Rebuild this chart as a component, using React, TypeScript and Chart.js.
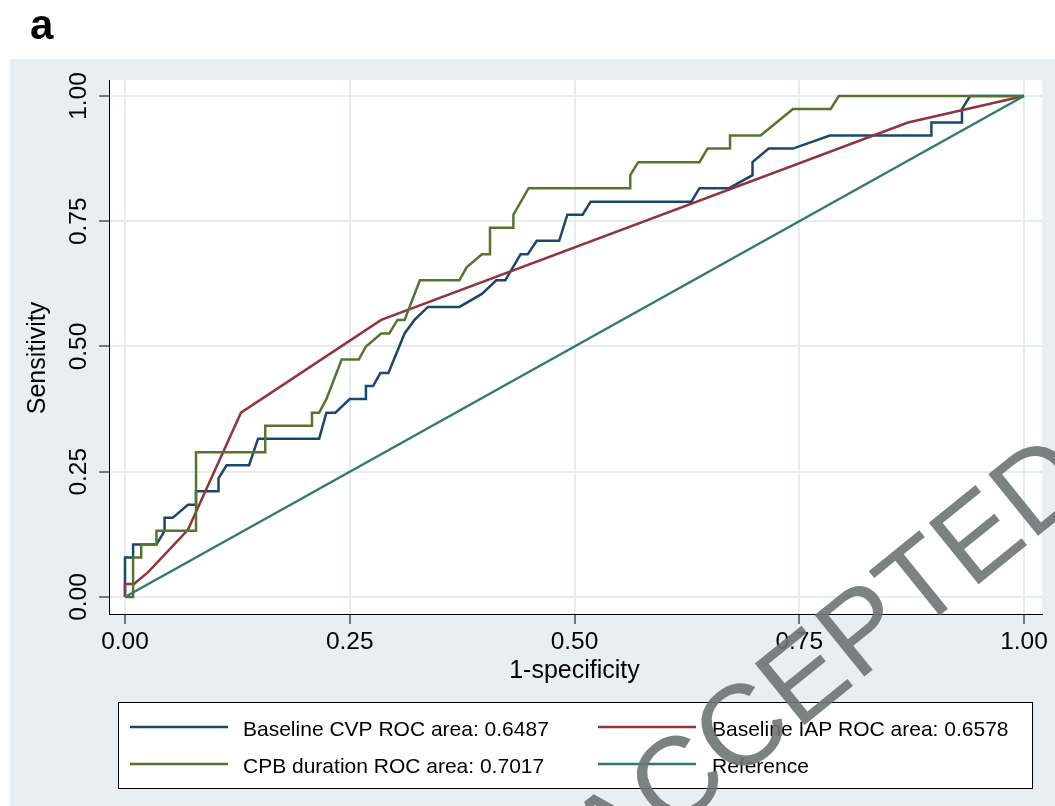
import React, { useEffect, useRef } from "react";
import { Chart, registerables } from "chart.js";
Chart.register(...registerables);

const W = 1055;
const H = 806;

// ---- data ----
const cvpFpr = [0, 0, 0.009, 0.009, 0.035, 0.044, 0.044, 0.053, 0.07, 0.079, 0.079, 0.104, 0.104, 0.113, 0.138, 0.148, 0.216, 0.224, 0.234, 0.25, 0.268, 0.268, 0.276, 0.284, 0.293, 0.311, 0.322, 0.337, 0.372, 0.397, 0.413, 0.423, 0.44, 0.448, 0.458, 0.483, 0.492, 0.509, 0.518, 0.63, 0.639, 0.672, 0.698, 0.698, 0.716, 0.743, 0.784, 0.897, 0.897, 0.931, 0.931, 0.94, 1];
const cvpSens = [0, 0.079, 0.079, 0.105, 0.105, 0.132, 0.158, 0.158, 0.184, 0.184, 0.211, 0.211, 0.237, 0.263, 0.263, 0.316, 0.316, 0.368, 0.368, 0.395, 0.395, 0.421, 0.421, 0.447, 0.447, 0.526, 0.553, 0.579, 0.579, 0.605, 0.632, 0.632, 0.684, 0.684, 0.711, 0.711, 0.763, 0.763, 0.789, 0.789, 0.816, 0.816, 0.842, 0.868, 0.895, 0.895, 0.921, 0.921, 0.947, 0.947, 0.974, 1, 1];

const iapFpr = [0, 0, 0.01, 0.026, 0.07, 0.129, 0.285, 0.871, 1];
const iapSens = [0, 0.026, 0.026, 0.05, 0.134, 0.368, 0.553, 0.947, 1];

const cpbFpr = [0, 0.009, 0.009, 0.018, 0.018, 0.035, 0.035, 0.079, 0.079, 0.156, 0.156, 0.208, 0.208, 0.216, 0.224, 0.241, 0.26, 0.268, 0.285, 0.294, 0.303, 0.311, 0.328, 0.372, 0.38, 0.397, 0.406, 0.406, 0.432, 0.432, 0.449, 0.562, 0.562, 0.571, 0.639, 0.648, 0.673, 0.673, 0.707, 0.743, 0.785, 0.794, 1];
const cpbSens = [0, 0, 0.079, 0.079, 0.105, 0.105, 0.132, 0.132, 0.289, 0.289, 0.342, 0.342, 0.368, 0.368, 0.395, 0.474, 0.474, 0.5, 0.526, 0.526, 0.553, 0.553, 0.632, 0.632, 0.658, 0.684, 0.684, 0.737, 0.737, 0.763, 0.816, 0.816, 0.842, 0.868, 0.868, 0.895, 0.895, 0.921, 0.921, 0.974, 0.974, 1, 1];

const refFpr = [0, 1];
const refSens = [0, 1];

const tickValues = [0, 0.25, 0.5, 0.75, 1];
const tickLabels = ["0.00", "0.25", "0.50", "0.75", "1.00"];

const legendLabels = [
  "Baseline CVP ROC area: 0.6487",
  "Baseline IAP ROC area: 0.6578",
  "CPB duration ROC area: 0.7017",
  "Reference",
];
const xTitle = "1-specificity";
const yTitle = "Sensitivity";
const panelLabel = "a";
const watermarkText = "ACCEPTED";

// ---- styles ----
const NAVY = "#1a476f";
const MAROON = "#90353b";
const GREEN = "#55752f";
const TEAL = "#337a6e";
const BG = "#e7eff2";
const GRID = "#e3ecef";
const FONT = "'Liberation Sans', Arial, Helvetica, sans-serif";
const legendColors = [NAVY, MAROON, GREEN, TEAL];

const pts = (xs: number[], ys: number[]) => xs.map((x, i) => ({ x, y: ys[i] }));

const decor = {
  id: "decor",
  beforeDraw(chart: any) {
    const ctx = chart.ctx;
    const { left, top, right, bottom } = chart.chartArea;
    ctx.save();
    ctx.fillStyle = "#ffffff";
    ctx.fillRect(0, 0, W, H);
    ctx.fillStyle = BG;
    ctx.fillRect(10, 59, W - 10, H - 59);
    ctx.fillStyle = "#ffffff";
    ctx.fillRect(left, top, right - left, bottom - top);
    ctx.restore();
  },
  afterDraw(chart: any) {
    const ctx = chart.ctx;
    const xs = chart.scales.x;
    const ys = chart.scales.y;
    ctx.save();
    ctx.fillStyle = "#000";
    // y tick labels (rotated)
    ctx.font = `24.5px ${FONT}`;
    ctx.textAlign = "center";
    ctx.textBaseline = "alphabetic";
    tickValues.forEach((v, i) => {
      const y = ys.getPixelForValue(v);
      ctx.save();
      ctx.translate(86, y);
      ctx.rotate(-Math.PI / 2);
      ctx.fillText(tickLabels[i], 0, 0);
      ctx.restore();
    });
    // y title
    ctx.font = `25px ${FONT}`;
    ctx.save();
    ctx.translate(45, 358);
    ctx.rotate(-Math.PI / 2);
    ctx.fillText(yTitle, 0, 0);
    ctx.restore();
    // x title
    const xc = (xs.getPixelForValue(0) + xs.getPixelForValue(1)) / 2;
    ctx.fillText(xTitle, xc, 678);

    // legend
    const lx = 118, ly = 702, lw = 1032 - 118, lh = 86;
    ctx.fillStyle = "#fff";
    ctx.fillRect(lx, ly, lw, lh);
    ctx.strokeStyle = "#000";
    ctx.lineWidth = 1;
    ctx.strokeRect(lx + 0.5, ly + 0.5, lw, lh);
    const cols = [{ l0: 130, l1: 228, t: 243 }, { l0: 598, l1: 696, t: 712 }];
    const rows = [{ line: 727, text: 736 }, { line: 764, text: 772.5 }];
    ctx.font = `21px ${FONT}`;
    ctx.textAlign = "left";
    legendLabels.forEach((lab, i) => {
      const c = cols[i % 2];
      const r = rows[Math.floor(i / 2)];
      ctx.strokeStyle = legendColors[i];
      ctx.lineWidth = 2.5;
      ctx.beginPath();
      ctx.moveTo(c.l0, r.line);
      ctx.lineTo(c.l1, r.line);
      ctx.stroke();
      ctx.fillStyle = "#000";
      ctx.fillText(lab, c.t, r.text);
    });

    // panel label
    ctx.font = `bold 42px ${FONT}`;
    ctx.fillStyle = "#000";
    ctx.fillText(panelLabel, 30, 39);

    // watermark
    ctx.save();
    ctx.translate(832, 662);
    ctx.rotate((-39 * Math.PI) / 180);
    ctx.font = `115px ${FONT}`;
    ctx.textAlign = "center";
    ctx.textBaseline = "middle";
    ctx.fillStyle = "rgba(110,115,115,0.9)";
    ctx.fillText(watermarkText, 0, 0);
    ctx.restore();

    ctx.restore();
  },
};

const setTicks = (scale: any) => {
  scale.ticks = tickValues.map((v) => ({ value: v }));
};

export default function App() {
  const ref = useRef<HTMLCanvasElement | null>(null);
  useEffect(() => {
    if (!ref.current) return;
    const lineDs = (label: string, xs: number[], ys: number[], color: string) => ({
      label,
      data: pts(xs, ys),
      borderColor: color,
      backgroundColor: color,
      borderWidth: 2.5,
      pointRadius: 0,
      showLine: true,
      tension: 0,
      fill: false,
    });
    const chart = new Chart(ref.current, {
      type: "scatter",
      data: {
        datasets: [
          lineDs(legendLabels[3], refFpr, refSens, TEAL),
          lineDs(legendLabels[2], cpbFpr, cpbSens, GREEN),
          lineDs(legendLabels[1], iapFpr, iapSens, MAROON),
          lineDs(legendLabels[0], cvpFpr, cvpSens, NAVY),
        ],
      },
      options: {
        responsive: false,
        animation: false,
        devicePixelRatio: 1,
        layout: { padding: { left: 0, top: 80, right: 13, bottom: 0 } },
        plugins: { legend: { display: false }, tooltip: { enabled: false }, title: { display: false } },
        scales: {
          x: {
            type: "linear",
            min: -16 / 899,
            max: 1 + 18 / 899,
            afterBuildTicks: setTicks,
            afterFit: (s: any) => { s.height = 192; },
            grid: { color: GRID, lineWidth: 2, tickColor: "#000", tickWidth: 1, tickLength: 10, drawTicks: true },
            border: { display: true, color: "#000", width: 1 },
            ticks: {
              font: { size: 24.5, family: FONT },
              color: "#000",
              padding: 4,
              maxRotation: 0,
              minRotation: 0,
              autoSkip: false,
              callback: (v: any) => {
                const i = tickValues.indexOf(Number(v));
                return i >= 0 ? tickLabels[i] : "";
              },
            },
          },
          y: {
            type: "linear",
            min: -17 / 501,
            max: 1 + 16 / 501,
            afterBuildTicks: setTicks,
            afterFit: (s: any) => { s.width = 109; },
            grid: { color: GRID, lineWidth: 2, tickColor: "#000", tickWidth: 1, tickLength: 10, drawTicks: true },
            border: { display: true, color: "#000", width: 1 },
            ticks: { display: false },
          },
        },
      },
      plugins: [decor],
    } as any);
    return () => chart.destroy();
  }, []);
  return (
    <div style={{ position: "absolute", left: 0, top: 0, width: W, height: H }}>
      <canvas ref={ref} width={W} height={H} style={{ display: "block", width: W, height: H }} />
    </div>
  );
}
